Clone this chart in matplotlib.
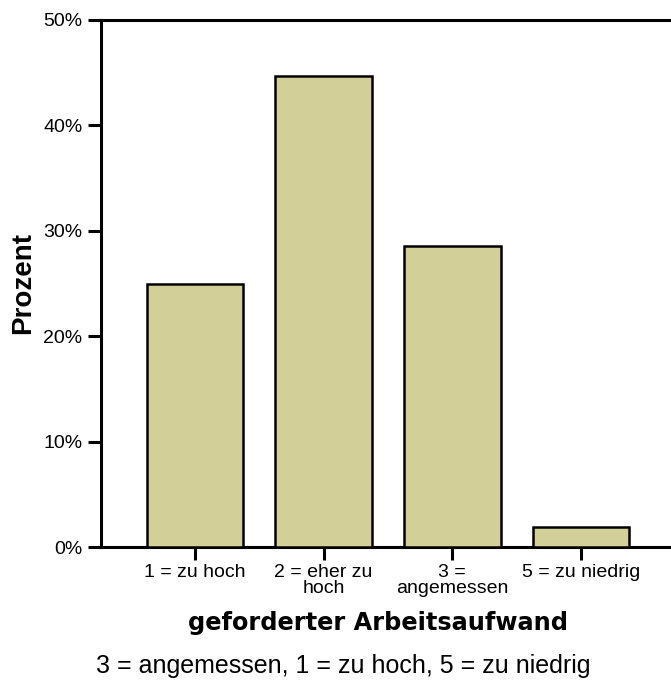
import matplotlib
matplotlib.use('Agg')
import matplotlib.pyplot as plt
from matplotlib.ticker import FuncFormatter

categories = ['1 = zu hoch', '2 = eher zu\nhoch', '3 =\nangemessen', '5 = zu niedrig']
percent = [25.0, 44.7, 28.6, 1.9]
y_ticks = [0, 10, 20, 30, 40, 50]

W, H = 671, 682
fig = plt.figure(figsize=(W / 100, H / 100), dpi=100)
ax = fig.add_axes([101 / W, 135 / H, 570 / W, 527 / H])

x = range(len(categories))
ax.bar(x, percent, width=0.75, color='#D3CF99', edgecolor='black', linewidth=1.8, zorder=3)

ax.set_xlim(-0.73, 3.70)
ax.set_ylim(0, 50)
ax.set_yticks(y_ticks)
ax.yaxis.set_major_formatter(FuncFormatter(lambda v, p: f'{v:.0f}%'))
ax.set_xticks(list(x))
ax.set_xticklabels(categories, fontfamily='Liberation Sans', fontsize=14, linespacing=0.93)
for lbl in ax.get_yticklabels():
    lbl.set_fontfamily('Liberation Sans')
    lbl.set_fontsize(14)

ax.spines['right'].set_visible(False)
for s in ['left', 'bottom', 'top']:
    ax.spines[s].set_linewidth(2.2)
ax.tick_params(axis='both', length=9.5, width=2.2, direction='out')
ax.tick_params(axis='y', pad=4)
ax.tick_params(axis='x', pad=3)

ax.set_ylabel('Prozent', fontsize=20, fontweight='bold', fontfamily='Liberation Sans')
ax.yaxis.set_label_coords(-(101 - 10) / 570, 0.5)
ax.yaxis.label.set_va('top')

ax.set_xlabel('geforderter Arbeitsaufwand', fontsize=17.3, fontfamily='DejaVu Sans',
              fontweight='bold')
ax.xaxis.set_label_coords((378 - 101) / 570, -(630 - 547) / 527)
ax.xaxis.label.set_va('baseline')

fig.text(343 / W, (H - 673) / H, '3 = angemessen, 1 = zu hoch, 5 = zu niedrig',
         fontsize=18, fontfamily='Liberation Sans', ha='center', va='baseline')

fig.savefig('out.png', dpi=100)
